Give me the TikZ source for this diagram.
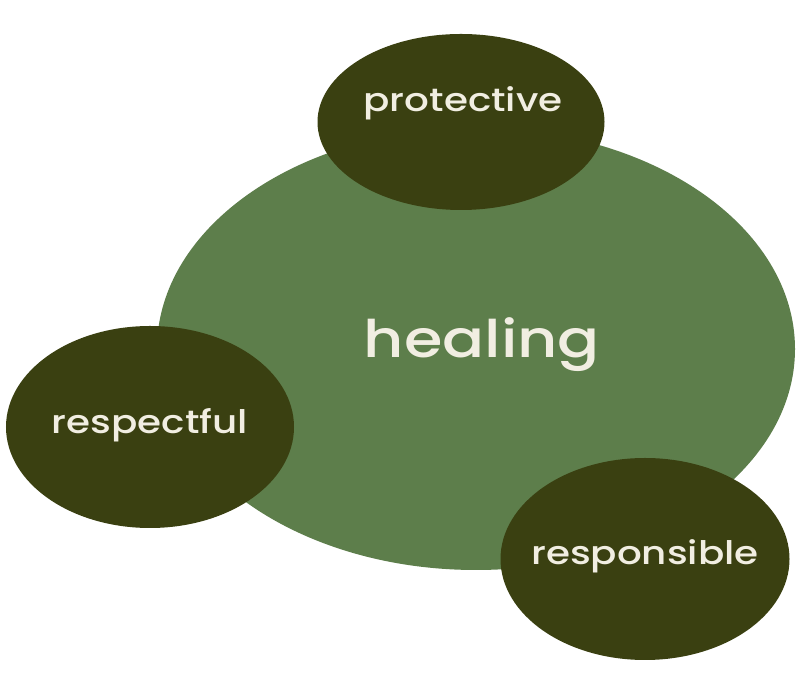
\documentclass[tikz,border=0pt]{standalone}
\usepackage{fontspec}
\setmainfont{Poppins}[FakeStretch=1.2]
\newfontfamily\valuefont{Poppins Medium}[FakeStretch=1.2]
\usetikzlibrary{shapes.geometric}
\definecolor{HealGreen}{HTML}{5D7E4B}
\definecolor{ValueDark}{HTML}{3A4011}
\definecolor{LabelCream}{HTML}{F1EEE2}

\begin{document}
\begin{tikzpicture}[x=1bp,y=1bp, every node/.style={inner sep=0pt, text=LabelCream, font=\valuefont\fontsize{32.5}{36}\selectfont}]
  \tikzset{blob/.style={ellipse, fill=ValueDark}}
  \useasboundingbox (0,0) rectangle (801,682);
  \node[ellipse, fill=HealGreen, minimum width=638bp, minimum height=442bp] (healing) at (476,333) {};
  \node[font=\valuefont\fontsize{52}{56}\selectfont] (healtext) at (482,337) {healing};
  \node[blob, minimum width=287bp, minimum height=176bp] (protective) at (461,560) {};
  \node (protext) at (463,579) {protective};
  \node[blob, minimum width=288bp, minimum height=202bp] (respectful) at (150,255) {};
  \node (restext) at (150,257) {respectful};
  \node[blob, minimum width=289bp, minimum height=202bp] (responsible) at (645,123) {};
  \node (resptext) at (645,126) {responsible};
\end{tikzpicture}
\end{document}
